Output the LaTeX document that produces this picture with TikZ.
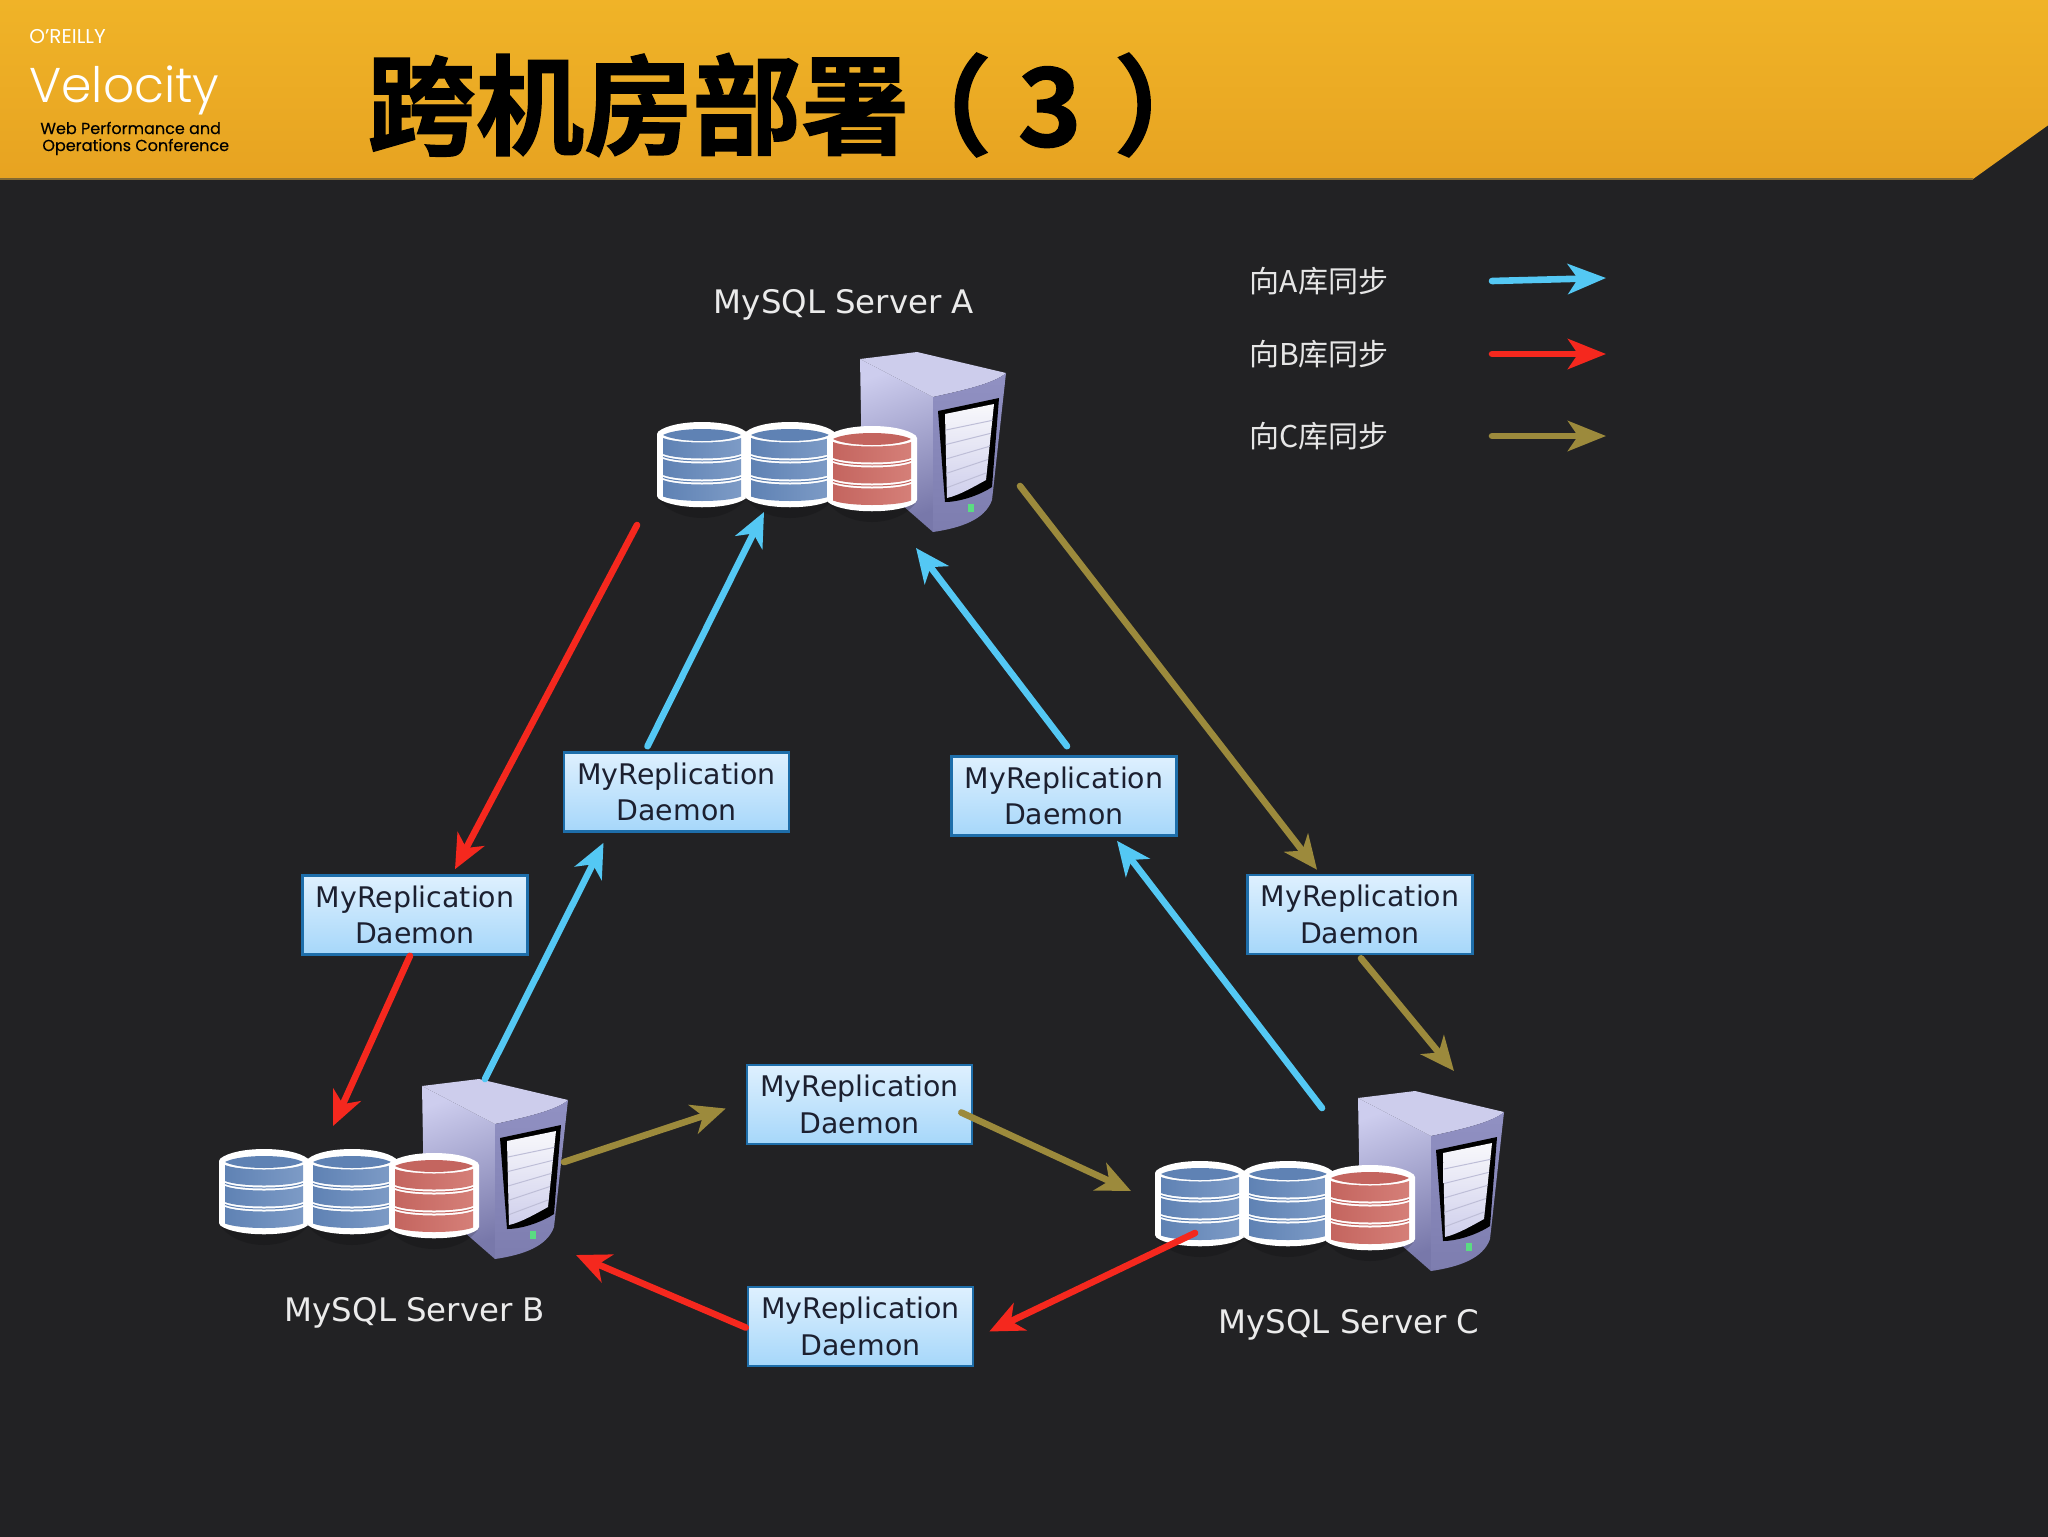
\documentclass[tikz,border=0pt]{standalone}
\usepackage{fontspec}
\usetikzlibrary{arrows.meta,calc,shadings}
\setmainfont{DejaVu Sans}
\newfontfamily\cjkf{Noto Sans CJK SC}
\newfontfamily\ttlf[UprightFont=* Bold,UprightFeatures={FakeBold=1.3}]{Noto Sans CJK SC}
\newfontfamily\velf[UprightFont=* Light]{Poppins}
\newfontfamily\confo{Poppins}
\newfontfamily\confb[FakeBold=0.25]{Poppins}
\definecolor{bgdark}{HTML}{222224}
\definecolor{syncblue}{HTML}{54C8F4}
\definecolor{syncred}{HTML}{F5281E}
\definecolor{syncolive}{HTML}{9C8A3C}
\tikzset{
  x=0.5pt,y=-0.5pt,
  daemon/.style={draw={rgb,255:red,30;green,110;blue,170},line width=1.3pt,top color={rgb,255:red,222;green,240;blue,254},bottom color={rgb,255:red,166;green,215;blue,250},minimum width=112.5pt,minimum height=39.5pt,inner sep=0pt,align=center,text={rgb,255:red,28;green,32;blue,48},font=\fontsize{14.2}{18.2}\selectfont},
  srvlabel/.style={text={rgb,255:red,235;green,235;blue,235},font=\fontsize{16.2}{20}\selectfont},
  leglabel/.style={text={rgb,255:red,230;green,230;blue,230},font=\cjkf\fontsize{15}{18}\selectfont},
  syncline/.style={line width=3.3pt,line cap=round,-{Stealth[length=17pt,width=15pt,inset=5pt]}},
  legline/.style={line width=3.3pt,line cap=round,-{Stealth[length=19pt,width=15pt,inset=5pt]}},
}
\definecolor{bandblueA}{HTML}{5F82B4}
\definecolor{bandblueB}{HTML}{7D9BC6}
\definecolor{bandredA}{HTML}{C4655F}
\definecolor{bandredB}{HTML}{D57F78}
\newcommand{\dbband}[4]{% style l yt yb
  \path[#1] (#2,#3) .. controls ({#2+15},{#3+6}) and ({#2+63},{#3+6}) .. ({#2+78},#3) -- ({#2+78},#4) .. controls ({#2+63},{#4+6}) and ({#2+15},{#4+6}) .. (#2,#4) -- cycle;
}
\newcommand{\dbcyl}[4]{% x y dark light
  \begin{scope}[shift={(#1,#2)}]
    \path[fill=black,opacity=0.15] (0,74) .. controls (18,102) and (72,102) .. (90,74) -- cycle;
    \path[fill=white,draw=white,line width=3pt,line join=round] (3,11) .. controls (18,-1) and (72,-1) .. (87,11) -- (87,73) .. controls (72,84) and (18,84) .. (3,73) -- cycle;
    \begin{scope}[shift={(6,0)}]
      \path[fill=#3] (0,12) .. controls (15,4) and (63,4) .. (78,12) .. controls (63,20) and (15,20) .. (0,12) -- cycle;
      \dbband{left color=#3,right color=#4}{0}{15}{31}
      \dbband{left color=#3,right color=#4}{0}{36}{52}
      \dbband{left color=#3,right color=#4}{0}{57}{73.5}
      \path[draw=#3,line width=0.5pt] (0,33.5) .. controls (15,39.5) and (63,39.5) .. (78,33.5);
      \path[draw=#3,line width=0.5pt] (0,54.5) .. controls (15,60.5) and (63,60.5) .. (78,54.5);
    \end{scope}
  \end{scope}
}
\newcommand{\serverdraw}[1]{%
  \begin{scope}[shift={(#1)}]
    \path[left color={rgb,255:red,205;green,205;blue,238},right color={rgb,255:red,120;green,120;blue,170},shading angle=20] (230,29) -- (303,67) -- (303,202) -- (232,140) -- cycle;
    \path[fill={rgb,255:red,205;green,205;blue,236}] (230,29) -- (287,22) -- (376,43) .. controls (365,53) and (335,60) .. (303,67) -- cycle;
    \path[top color={rgb,255:red,145;green,145;blue,195},bottom color={rgb,255:red,125;green,125;blue,175}] (303,67) .. controls (335,60) and (365,53) .. (376,43) -- (362,170) .. controls (355,190) and (330,198) .. (303,202) -- cycle;
    \path[fill=black] (308,81) -- (369,68) -- (362,157) .. controls (350,165) and (330,172) .. (315,172) -- cycle;
    \begin{scope}
      \path[clip] (315,84) -- (364,74) -- (356,150) .. controls (345,156) and (330,165) .. (317,168) -- cycle;
      \path[top color={rgb,255:red,250;green,250;blue,252},bottom color={rgb,255:red,205;green,205;blue,235}] (300,70) rectangle (370,172);
      \foreach \yy in {0,1,2,3,4} {
        \path[draw={rgb,255:red,190;green,190;blue,215},line width=0.5pt] (316,{100+\yy*14.5}) -- (364,{90+\yy*12.5});
      }
    \end{scope}
    \path[fill={rgb,255:red,90;green,220;blue,130}] (338,174) rectangle (344,182);
    \dbcyl{27}{93}{bandblueA}{bandblueB}
    \dbcyl{115}{93}{bandblueA}{bandblueB}
    \dbcyl{197}{97}{bandredA}{bandredB}
  \end{scope}
}
\begin{document}
\begin{tikzpicture}
\useasboundingbox (0,0) rectangle (2048,1536);
\path[fill=bgdark] (-6,-6) rectangle (2054,1542);
\path[top color={rgb,255:red,240;green,180;blue,40},bottom color={rgb,255:red,231;green,163;blue,33}] (-6,-6) -- (2054,-6) -- (2054,121) -- (1973,179) -- (-6,179) -- cycle;
\path[draw={rgb,255:red,130;green,105;blue,50},line width=1pt] (-6,178.5) -- (1973,178.5);
% logo
\node[anchor=west,inner sep=0pt,text=white,font=\confo\fontsize{10}{12}\selectfont] (logoA) at (29,37) {O’REILLY};
\node[anchor=west,inner sep=0pt,text=white,font=\velf\fontsize{24.4}{30}\selectfont] (logoB) at (29,90) {Velocity};
\node[anchor=west,inner sep=0pt,text=black,font=\confb\fontsize{8}{10}\selectfont] (logoC) at (40,128) {Web Performance and};
\node[anchor=west,inner sep=0pt,text=black,font=\confb\fontsize{8}{10}\selectfont] (logoD) at (42,147) {Operations Conference};
% title
\node[anchor=west,inner sep=0pt,text=black,font=\ttlf\fontsize{54.2}{60}\selectfont] (title) at (367,105) {跨机房部署\kern-13pt（\kern13pt 3\kern16pt）};
% servers
\coordinate (srvA) at (630,330);
\coordinate (srvB) at (192,1057);
\coordinate (srvC) at (1128,1069);
\serverdraw{630,330}
\serverdraw{192,1057}
\serverdraw{1128,1069}
\node[srvlabel] (lblA) at (844,305) {MySQL Server A};
\node[srvlabel] (lblB) at (415,1313) {MySQL Server B};
\node[srvlabel] (lblC) at (1349,1325) {MySQL Server C};
% daemons
\node[daemon] (bL) at (415,915) {MyReplication\\Daemon};
\node[daemon] (bA) at (676.5,792) {MyReplication\\Daemon};
\node[daemon] (bR) at (1064,796) {MyReplication\\Daemon};
\node[daemon] (bC) at (1360,914.5) {MyReplication\\Daemon};
\node[daemon] (bT) at (859.5,1104.5) {MyReplication\\Daemon};
\node[daemon] (bU) at (860.5,1326.5) {MyReplication\\Daemon};
% arrows
\draw[syncline,syncred] ($(srvA)+(7,195)$) -- ($(bL.north)+(40,-5)$);
\draw[syncline,syncred] ($(bL.south)+(-5,0)$) -- ($(srvB)+(141,69)$);
\draw[syncline,syncblue] ($(bA.north)+(-29,-5)$) -- ($(srvA)+(134,182)$);
\draw[syncline,syncblue] ($(srvB)+(293,22)$) -- ($(bA.south)+(-73,10)$);
\draw[syncline,syncblue] ($(bR.north)+(3,-9)$) -- ($(srvA)+(286,218)$);
\draw[syncline,syncblue] ($(srvC)+(194,39)$) -- ($(bR.south)+(53,4)$);
\draw[syncline,syncolive] ($(srvA)+(390,156)$) -- ($(bC.north)+(-43,-4)$);
\draw[syncline,syncolive] ($(bC.south)+(1,3)$) -- ($(srvC)+(326,2)$);
\draw[syncline,syncolive] ($(srvB)+(372,105)$) -- ($(bT.west)+(-20,4)$);
\draw[syncline,syncolive] ($(bT.east)+(-12,8)$) -- ($(srvC)+(3,122)$);
\draw[syncline,syncred] ($(bU.west)+(-1,1)$) -- ($(srvB)+(384,198)$);
\draw[syncline,syncred] ($(srvC)+(67,164)$) -- ($(bU.east)+(15,5)$);
% legend
\node[leglabel] (lgA) at (1319,281) {向A库同步};
\node[leglabel] (lgB) at (1319,354) {向B库同步};
\node[leglabel] (lgC) at (1319,436) {向C库同步};
\coordinate (lgAs) at (1492,281);
\coordinate (lgAe) at (1606,278);
\coordinate (lgBs) at (1492,354);
\coordinate (lgBe) at (1606,354);
\coordinate (lgCs) at (1492,436);
\coordinate (lgCe) at (1606,436);
\draw[legline,syncblue] (lgAs) -- (lgAe);
\draw[legline,syncred] (lgBs) -- (lgBe);
\draw[legline,syncolive] (lgCs) -- (lgCe);
\end{tikzpicture}
\end{document}
